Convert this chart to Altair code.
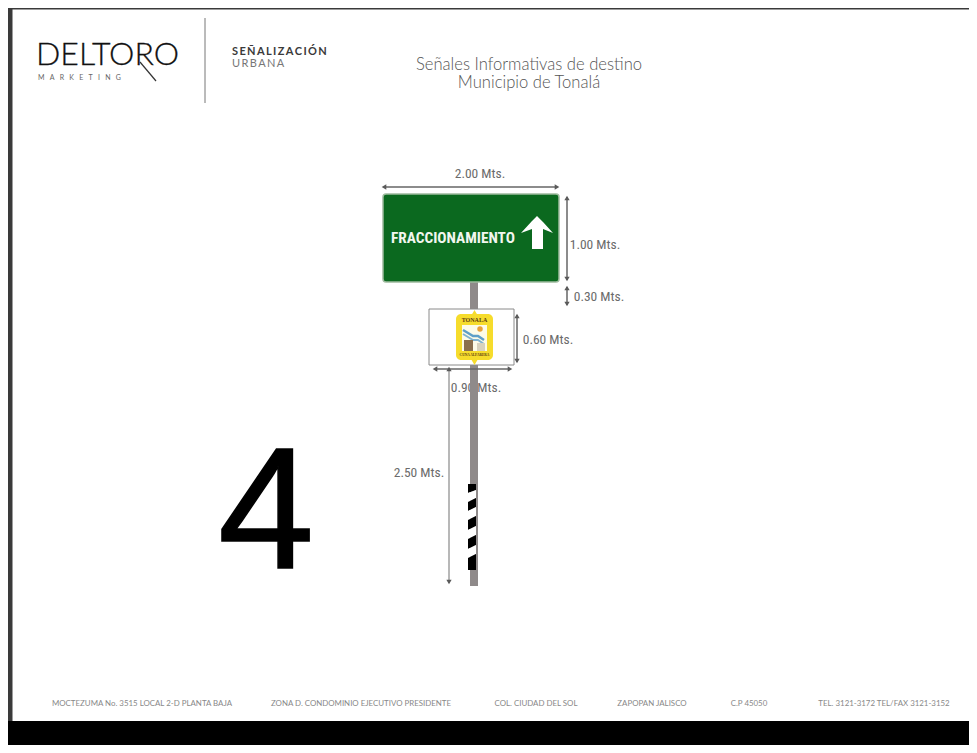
import altair as alt
import pandas as pd

# ---- all values are positions, in its pixel frame ----
bands_x = [8, 8, 8]
bands_x2 = [12.5, 969, 969]
bands_y = [8, 721, 8]
bands_y2 = [745, 745, 9.5]
bands_c = ["#3a3a3a", "#000000", "#3a3a3a"]

heading_text = ["Señales Informativas de destino", "Municipio de Tonalá"]
heading_x = [529, 529]
heading_y = [65, 83]

footer_text = ["MOCTEZUMA No. 3515 LOCAL 2-D PLANTA BAJA", "ZONA D. CONDOMINIO EJECUTIVO PRESIDENTE",
               "COL. CIUDAD DEL SOL", "ZAPOPAN JALISCO", "C.P 45050", "TEL. 3121-3172 TEL/FAX 3121-3152"]
footer_x = [142, 361, 536, 652, 749, 884]
footer_y = [704] * 6

dim_text = ["2.00 Mts.", "1.00 Mts.", "0.30 Mts.", "0.60 Mts.", "0.90 Mts.", "2.50 Mts."]
dim_x = [480, 595, 599, 548, 476, 419]
dim_y = [174, 245, 297, 340, 388, 473]

rule_x = [384, 567, 567, 517, 436, 449, 140]
rule_x2 = [557, 567, 567, 517, 510, 449, 156]
rule_y = [187, 197, 287, 315, 369, 368, 62]
rule_y2 = [187, 280, 305, 362, 369, 583, 81]
rule_w = [1.5, 1.5, 1.5, 1.5, 1.5, 1.5, 1.2]
rule_c = ["#666666"] * 5 + ["#a0a0a0", "#333333"]

head_x = [384, 557, 567, 567, 567, 567, 517, 517, 435, 510, 449, 449]
head_y = [187, 187, 198, 279, 288, 304, 316, 361, 369, 369, 369, 582]
head_s = ["triangle-left", "triangle-right", "triangle-up", "triangle-down", "triangle-up", "triangle-down",
          "triangle-up", "triangle-down", "triangle-left", "triangle-right", "triangle-up", "triangle-down"]

stripe_edges = [(484, 484), (493, 490), (502, 498), (511, 507), (520, 516), (530, 526), (539, 535), (549, 545), (558, 554), (570, 570)]
stripe_left = [468, 476]

arrow_x = [521, 532, 537, 543, 553]
arrow_y = [233, 221, 216, 222, 233]
arrow_y2 = [233, 229, 229, 229, 233]

w_wave_x = [463, 468, 473, 478, 484]
w_wave_y = [330, 333, 336, 336, 340]
w_wave2_y = [334, 337, 340, 340, 344]

stripe_rows = []
for i in range(len(stripe_edges) - 1):
    for j, sx in enumerate(stripe_left):
        stripe_rows.append(dict(i=i, x=sx, y=stripe_edges[i][j], y2=stripe_edges[i + 1][j],
                                c="#000000" if i % 2 == 0 else "#ffffff"))

# ---- scales: the picture's own pixel frame ----
xs = alt.Scale(domain=[8, 969], nice=False, zero=False)
ys = alt.Scale(domain=[745, 8], nice=False, zero=False)
X = lambda f: alt.X(f, type="quantitative", scale=xs, axis=None)
Y = lambda f: alt.Y(f, type="quantitative", scale=ys, axis=None)
C = lambda f="c": alt.Color(f"{f}:N", scale=None)
NARROW = "Roboto Condensed, Roboto"
SP = "\u2009"
EM = "\u2003"


def rects(x, x2, y, y2, c, **mark):
    d = pd.DataFrame(dict(x=x, x2=x2, y=y, y2=y2, c=c))
    return alt.Chart(d).mark_rect(**mark).encode(x=X("x"), x2="x2", y=Y("y"), y2="y2", fill=alt.Fill("c:N", scale=None))


def rules(x, x2, y, y2, c, w):
    d = pd.DataFrame(dict(x=x, x2=x2, y=y, y2=y2, c=c, w=w))
    return alt.Chart(d).mark_rule().encode(x=X("x"), x2="x2", y=Y("y"), y2="y2", color=C(),
                                           strokeWidth=alt.StrokeWidth("w:Q", scale=None))


def texts(t, x, y, size, color, font, align="center", weight="normal", **mark):
    d = pd.DataFrame(dict(t=t, x=x, y=y))
    return alt.Chart(d).mark_text(font=font, fontSize=size, color=color, align=align, baseline="middle",
                                  fontWeight=weight, **mark).encode(x=X("x"), y=Y("y"), text="t:N")


layers = [
    rects(bands_x, bands_x2, bands_y, bands_y2, bands_c),
    # logo
    texts(["DELTORO"], [36], [55], 32, "#111111", "Lato", "left", 300, stroke="#111111", strokeWidth=0.3),
    texts([EM.join("MARKETING")], [38], [78], 7, "#666666", "Lato", "left"),
    rules([205], [205], [18], [103], ["#777777"], [1]),
    texts([SP.join("SEÑALIZACIÓN")], [232], [52], 11, "#3a3a3a", "Lato", "left", "bold"),
    texts([SP.join("URBANA")], [232], [64], 11, "#777777", "Lato", "left"),
    texts(heading_text, heading_x, heading_y, 16.6, "#555555", "Lato", "center", 300),
    # dimension labels (pole runs over them)
    texts(dim_text, dim_x, dim_y, 13.5, "#6b6b6b", NARROW),
    # pole
    rects([470], [478], [281], [586], ["#8f8a8a"]),
    # big number
    texts(["4"], [266], [516], 173, "#000000", "Liberation Sans", "center", "normal", stroke="#000000", strokeWidth=1.5),
    # green sign
    rects([383], [559], [194], [282], ["#0b691f"], cornerRadius=3, stroke="#9fbb9f", strokeWidth=1.5),
    texts(["FRACCIONAMIENTO"], [453], [238], 15.3, "#f2f7ef", NARROW, "center", "bold"),
    alt.Chart(pd.DataFrame(dict(x=arrow_x, y=arrow_y, y2=arrow_y2))).mark_area(color="#ffffff").encode(
        x=X("x"), y=Y("y"), y2="y2"),
    rects([532], [543], [228], [249], ["#ffffff"]),
    # arrows
    rects([429], [514], [309], [365], ["#ffffff"], stroke="#8a8a8a", strokeWidth=1),
    rules(rule_x, rule_x2, rule_y, rule_y2, rule_c, rule_w),
    alt.Chart(pd.DataFrame(dict(x=head_x, y=head_y, s=head_s))).mark_point(filled=True, size=28, color="#5a5a5a", opacity=1).encode(
        x=X("x"), y=Y("y"), shape=alt.Shape("s:N", scale=None)),
    # shield
    alt.Chart(pd.DataFrame(dict(x=[474.5, 474.5], y=[313, 362], s=["triangle-up", "triangle-down"]))).mark_point(
        filled=True, size=50, color="#f6dc2c", opacity=1).encode(x=X("x"), y=Y("y"), shape=alt.Shape("s:N", scale=None)),
    rects([456], [493], [314], [360], ["#f6dc2c"], cornerRadius=5),
    rects([462], [487], [325], [351], ["#fdfbe8"]),
    alt.Chart(pd.DataFrame(dict(x=[480], y=[329]))).mark_point(filled=True, size=30, color="#e9a23a", opacity=1).encode(x=X("x"), y=Y("y")),
    alt.Chart(pd.DataFrame(dict(x=w_wave_x, y=w_wave_y))).mark_line(color="#5f9fc8", strokeWidth=2.5).encode(x=X("x"), y=Y("y")),
    alt.Chart(pd.DataFrame(dict(x=w_wave_x, y=w_wave2_y))).mark_line(color="#7fb3d2", strokeWidth=2).encode(x=X("x"), y=Y("y")),
    rects([464, 477], [473, 485], [340, 343], [351, 351], ["#8a6f4d", "#d8d2bd"]),
    texts(["TONALA"], [474.5], [320], 6, "#5b3a12", "Liberation Serif", "center", "bold"),
    texts(["CUNA ALFARERA"], [474.5], [355], 3.5, "#5b3a12", "Liberation Serif", "center", "bold"),
    # striped base
    alt.Chart(pd.DataFrame(stripe_rows)).mark_area().encode(
        x=X("x"), y=Y("y"), y2="y2", fill=alt.Fill("c:N", scale=None), detail="i:N"),
    # footer
    texts(footer_text, footer_x, footer_y, 7.9, "#888888", "Lato"),
]

chart = alt.layer(*layers).properties(
    width=961, height=737, padding=0, autosize=alt.AutoSizeParams(type="none"), background="#ffffff"
).configure_view(stroke=None)

chart.save("out.html", embed_options={"renderer": "svg", "actions": False})
